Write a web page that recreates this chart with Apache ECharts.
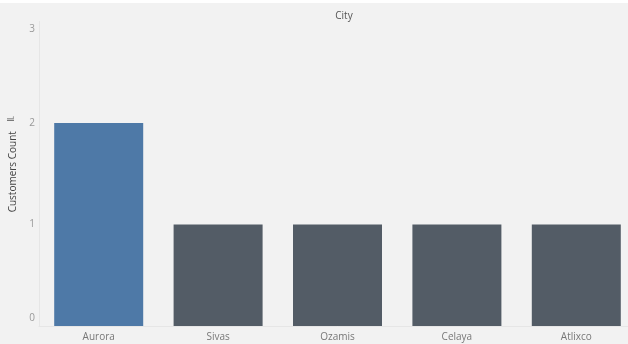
<!DOCTYPE html>
<html>
<head>
<meta charset="utf-8">
<script src="https://cdn.jsdelivr.net/npm/echarts@6/dist/echarts.min.js"></script>
<style>
  html, body { margin: 0; padding: 0; background: #fff; overflow: hidden; }
  #chart { width: 640px; height: 344px; }
</style>
</head>
<body>
<div id="chart"></div>
<script>
const cities = ['Aurora', 'Sivas', 'Ozamis', 'Celaya', 'Atlixco'];
const customerCounts = [2, 1, 1, 1, 1];
const highlightCity = 'Aurora';

const element = document.getElementById('chart');
const chart = echarts.init(element);

// the plot runs a little past the right edge of the 628px window, like the original view
chart.setOption({
  backgroundColor: '#f2f2f2',
  animation: false,
  textStyle: { fontFamily: 'Open Sans, sans-serif' },
  graphic: [
    { type: 'rect', left: 0, top: 0, shape: { width: 640, height: 3 }, style: { fill: '#ffffff' } },
    {
      type: 'text', left: 7, top: 116,
      style: { text: 'Ⅱ.', fill: '#555', font: '9px "Open Sans", sans-serif' },
      rotation: Math.PI / 2
    }
  ],
  title: {
    text: 'City',
    left: 339,
    top: 6,
    textAlign: 'center',
    textStyle: { fontSize: 10, fontWeight: 'normal', color: '#555' }
  },
  grid: {
    left: 36,
    top: 21.5,
    right: 4,
    bottom: 18,
    containLabel: false
  },
  xAxis: {
    type: 'category',
    data: cities,
    axisLine: { show: true, lineStyle: { color: '#e6e6e6' } },
    axisTick: { show: false },
    axisLabel: { color: '#777', fontSize: 10, margin: 6 }
  },
  yAxis: {
    type: 'value',
    min: 0,
    max: 3,
    interval: 1,
    name: 'Customers Count',
    nameLocation: 'middle',
    nameGap: 21,
    nameTextStyle: { color: '#444', fontSize: 10, padding: [0, 0, 0, 4] },
    axisLine: { show: true, lineStyle: { color: '#e6e6e6' } },
    axisTick: { show: false },
    splitLine: { show: false },
    axisLabel: {
      color: '#999',
      fontSize: 10,
      margin: 4,
      verticalAlignMinLabel: 'bottom',
      verticalAlignMaxLabel: 'top',
      padding: [3, 0, 3, 0]
    }
  },
  series: [
    {
      type: 'bar',
      barWidth: 89,
      data: customerCounts.map((v, i) => ({
        value: v,
        itemStyle: { color: cities[i] === highlightCity ? '#4e79a7' : '#535c66' }
      }))
    }
  ]
});
</script>
</body>
</html>
